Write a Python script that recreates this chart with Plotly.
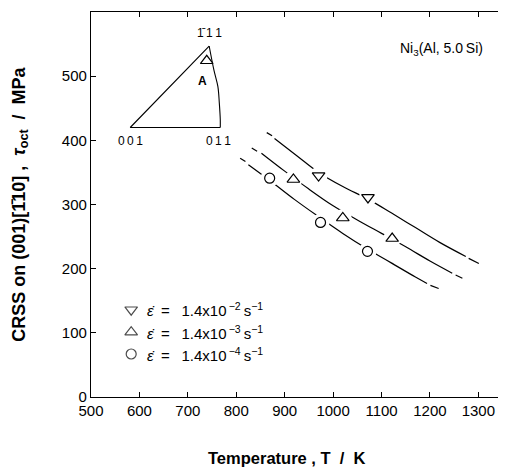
import plotly.graph_objects as go

# ---------------- data ----------------
# measured points
T_m2 = [970, 1072]          # 1.4e-2 s^-1 (down triangles)
S_m2 = [345, 311]
T_m3 = [918, 1020, 1122]    # 1.4e-3 s^-1 (up triangles)
S_m3 = [339, 279, 247]
T_m4 = [869, 974, 1071]     # 1.4e-4 s^-1 (circles)
S_m4 = [341, 272, 227]

# fitted curves (solid part)
T_c2 = [879, 925, 970, 1020, 1073, 1120, 1170, 1220, 1274]
S_c2 = [403, 376, 350, 328, 308, 287, 264, 241, 219]
T_c3 = [852, 900, 950, 1000, 1050, 1100, 1150, 1200, 1246]
S_c3 = [380, 352, 324, 298, 276, 255, 234, 212, 193]
T_c4 = [825, 870, 920, 970, 1020, 1070, 1120, 1170, 1194]
S_c4 = [362, 337, 308, 281, 255, 231, 209, 187, 177]

# extrapolated dash pieces (start, end)
T_d2 = [[863, 874], [1280, 1301]]
S_d2 = [[412, 407], [216, 208]]
T_d3 = [[832, 843], [1253, 1267]]
S_d3 = [[388, 383], [190, 185]]
T_d4 = [[808, 819], [1201, 1218]]
S_d4 = [[372, 367], [174, 169]]

# stereographic triangle inset
tri_T = [744, 581, 767]
tri_S = [547, 420, 420]
arc_T = [744, 754, 762, 765, 767, 767]
arc_S = [547, 509, 484, 458, 432, 420]
axis_marker_T = [739]
axis_marker_S = [524]

legend_labels = [
    "<i>ε̇</i>\u2002=\u2002 1.4x10<sup>\u2009−2</sup>\u2009s<sup>−1</sup>",
    "<i>ε̇</i>\u2002=\u2002 1.4x10<sup>\u2009−3</sup>\u2009s<sup>−1</sup>",
    "<i>ε̇</i>\u2002=\u2002 1.4x10<sup>\u2009−4</sup>\u2009s<sup>−1</sup>",
]
legend_T = [583, 583, 583]
legend_S = [136, 101, 67]

x_ticks = [500, 600, 700, 800, 900, 1000, 1100, 1200, 1300]
y_ticks = [0, 100, 200, 300, 400, 500, 600]

FONT = "Liberation Sans, Arial, Helvetica, sans-serif"
fig = go.Figure()

def dash_trace(Ts, Ss):
    xs, ys = [], []
    for t, s in zip(Ts, Ss):
        xs += t + [None]
        ys += s + [None]
    return go.Scatter(x=xs, y=ys, mode="lines", line=dict(color="black", width=1.2),
                      hoverinfo="skip", showlegend=False)

for Tc, Sc, Td, Sd in [(T_c2, S_c2, T_d2, S_d2), (T_c3, S_c3, T_d3, S_d3), (T_c4, S_c4, T_d4, S_d4)]:
    fig.add_trace(go.Scatter(x=Tc, y=Sc, mode="lines", line=dict(color="black", width=1.2, shape="spline"),
                             showlegend=False))
    fig.add_trace(dash_trace(Td, Sd))

# white halos to create gaps around markers
fig.add_trace(go.Scatter(x=T_m2 + T_m3 + T_m4, y=S_m2 + S_m3 + S_m4, mode="markers",
                         marker=dict(symbol="circle", size=18, color="white", line=dict(width=0)),
                         showlegend=False, hoverinfo="skip"))

mk = dict(color="white", line=dict(color="black", width=1.2))
fig.add_trace(go.Scatter(x=T_m2, y=S_m2, mode="markers",
                         marker=dict(symbol="triangle-down", size=11, **mk), showlegend=False))
fig.add_trace(go.Scatter(x=T_m3, y=S_m3, mode="markers",
                         marker=dict(symbol="triangle-up", size=11, **mk), showlegend=False))
fig.add_trace(go.Scatter(x=T_m4, y=S_m4, mode="markers",
                         marker=dict(symbol="circle", size=10, **mk), showlegend=False))

# inset triangle
fig.add_trace(go.Scatter(x=tri_T, y=tri_S, mode="lines", line=dict(color="black", width=1.1),
                         showlegend=False))
fig.add_trace(go.Scatter(x=arc_T, y=arc_S, mode="lines", line=dict(color="black", width=1.1, shape="spline"),
                         showlegend=False))
fig.add_trace(go.Scatter(x=axis_marker_T, y=axis_marker_S, mode="markers",
                         marker=dict(symbol="triangle-up", size=11, **mk), showlegend=False))

# legend markers
fig.add_trace(go.Scatter(x=legend_T, y=legend_S, mode="markers",
                         marker=dict(symbol=["triangle-down", "triangle-up", "circle"], size=[11, 11, 10], **mk),
                         showlegend=False))

annotations = []
for lab, s in zip(legend_labels, legend_S):
    annotations.append(dict(x=612, y=s, text=lab, showarrow=False, xanchor="left", yanchor="middle",
                            font=dict(family=FONT, size=15, color="black")))
SP = "\u2009"
annotations += [
    dict(x=744, y=568, text="1̄" + SP + "1" + SP + "1", showarrow=False, font=dict(family=FONT, size=12, color="black")),
    dict(x=582, y=399, text="0" + SP + "0" + SP + "1", showarrow=False, font=dict(family=FONT, size=12, color="black")),
    dict(x=764, y=399, text="0" + SP + "1" + SP + "1", showarrow=False, font=dict(family=FONT, size=12, color="black")),
    dict(x=731, y=492, text="<b>A</b>", showarrow=False, font=dict(family=FONT, size=12, color="black")),
    dict(x=1224, y=543, text="Ni<sub>3</sub>(Al, 5.0" + SP + "Si)", showarrow=False,
         font=dict(family=FONT, size=14, color="black")),
    dict(xref="paper", yref="paper", x=0.473, y=-0.158, text="<b>Temperature , T  /  K</b>",
         showarrow=False, xanchor="center", yanchor="middle", font=dict(family=FONT, size=16.5, color="black")),
    dict(xref="paper", yref="paper", x=-0.171, y=0.5, textangle=-90,
         text="<b>CRSS on (001)[1̄10] ,  <i>τ</i><sub>oct</sub>  /  MPa</b>",
         showarrow=False, xanchor="center", yanchor="middle", font=dict(family=FONT, size=18, color="black")),
]

# the page body has an 8px default margin, so the figure is sized/margined to compensate
fig.update_layout(
    width=498, height=463,
    margin=dict(l=83, r=1, t=4, b=74),
    paper_bgcolor="white", plot_bgcolor="white",
    font=dict(family=FONT, color="black"),
    annotations=annotations,
    xaxis=dict(range=[500, 1355], tickvals=x_ticks, ticks="inside", ticklen=5, tickwidth=1,
               tickcolor="black", showline=True, linecolor="black", linewidth=1.2, mirror="ticks",
               showgrid=False, zeroline=False, tickfont=dict(size=15, family=FONT), automargin=False),
    yaxis=dict(range=[0, 600], tickvals=y_ticks, ticks="inside", ticklen=5, tickwidth=1,
               tickcolor="black", showline=True, linecolor="black", linewidth=1.2, mirror="ticks",
               showgrid=False, zeroline=False, tickfont=dict(size=15, family=FONT), automargin=False),
)

fig.write_html("out.html")
